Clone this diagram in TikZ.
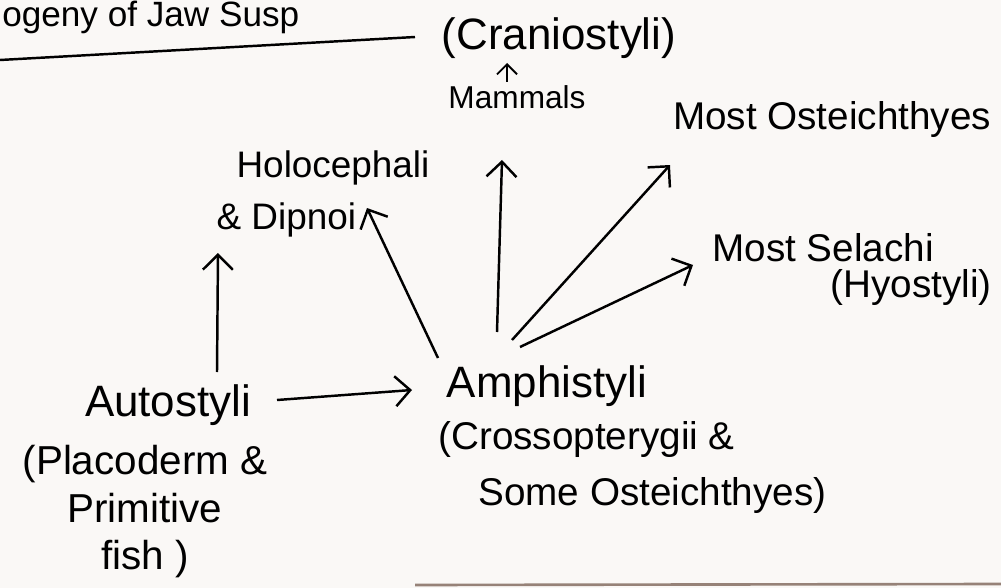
\documentclass[tikz,border=0pt]{standalone}
\usepackage{fontspec}
\setmainfont{Liberation Sans}
\usepackage{tikz}
\usetikzlibrary{arrows.meta}
\definecolor{paper}{RGB}{250,248,246}
\definecolor{edge}{RGB}{150,130,120}

\begin{document}
\begin{tikzpicture}[x=0.02cm, y=-0.02cm,
        lbl/.style={inner sep=0pt, font=\fontsize{22}{28}\selectfont},
        arr/.style={line width=1.4pt, -{Straight Barb[length=3mm,width=6mm]}},
        smallarr/.style={line width=1.1pt, -{Straight Barb[length=2mm,width=4mm]}}]
                \fill[paper] (0,0) rectangle (1001,588);
                \useasboundingbox (0,0) rectangle (1001,588);
                \clip (0,0) rectangle (1001,588);

                % heading at the top edge
                \node[lbl, anchor=base west, font=\fontsize{20}{24}\selectfont] (title) at (2,27) {ogeny of Jaw Susp};
                \draw[line width=1.4pt] (0,60) -- (415,37);

                \node[lbl, font=\fontsize{25}{30}\selectfont] (cranio) at (559,38) {(Craniostyli)};
                \node[lbl, font=\fontsize{18}{22}\selectfont] (mammals) at (517,97) {Mammals};
                \node[lbl] (osteich) at (832,120) {Most Osteichthyes};
                \node[lbl, align=left, font=\fontsize{21}{30}\selectfont] (holodip) at (323,194) {\hspace*{0.4cm}Holocephali\\\& Dipnoi};
                \node[lbl] (selachi) at (823,248) {Most Selachi};
                \node[lbl] (hyostyli) at (911,288) {(Hyostyli)};

                \node[lbl, font=\fontsize{25}{30}\selectfont] (autostyli) at (168,405) {Autostyli};
                \node[lbl, align=center, anchor=north, font=\fontsize{23}{27}\selectfont] (autonote) at (145,445) {(Placoderm \&\\Primitive\\fish )};
                \node[lbl, font=\fontsize{25}{30}\selectfont] (amphi) at (547,386) {Amphistyli};
                \node[lbl, align=left, anchor=north west, font=\fontsize{22}{32}\selectfont] (amphinote) at (438,421) {(Crossopterygii \&\\\hspace*{0.8cm}Some Osteichthyes)};

                \draw[arr] ([shift={(109,-5)}]autostyli.center) -- ([shift={(-135,4)}]amphi.center);
                \draw[arr] ([shift={(49,-33)}]autostyli.center) -- ([shift={(-105,59)}]holodip.center);
                \draw[arr] ([shift={(-109,-28)}]amphi.center) -- ([shift={(44,14)}]holodip.center);
                \draw[arr] ([shift={(-50,-54)}]amphi.center) -- ([shift={(-15,63)}]mammals.center);
                \draw[arr] ([shift={(-35,-46)}]amphi.center) -- ([shift={(-162,45)}]osteich.center);
                \draw[arr] ([shift={(-27,-39)}]amphi.center) -- ([shift={(-130,17)}]selachi.center);
                \draw[smallarr] ([shift={(-10,-15)}]mammals.center) -- ([shift={(-52,25)}]cranio.center);

                % page edge at the bottom
                \draw[edge, line width=1.5pt] (415,585) -- (1001,584);
\end{tikzpicture}
\end{document}
